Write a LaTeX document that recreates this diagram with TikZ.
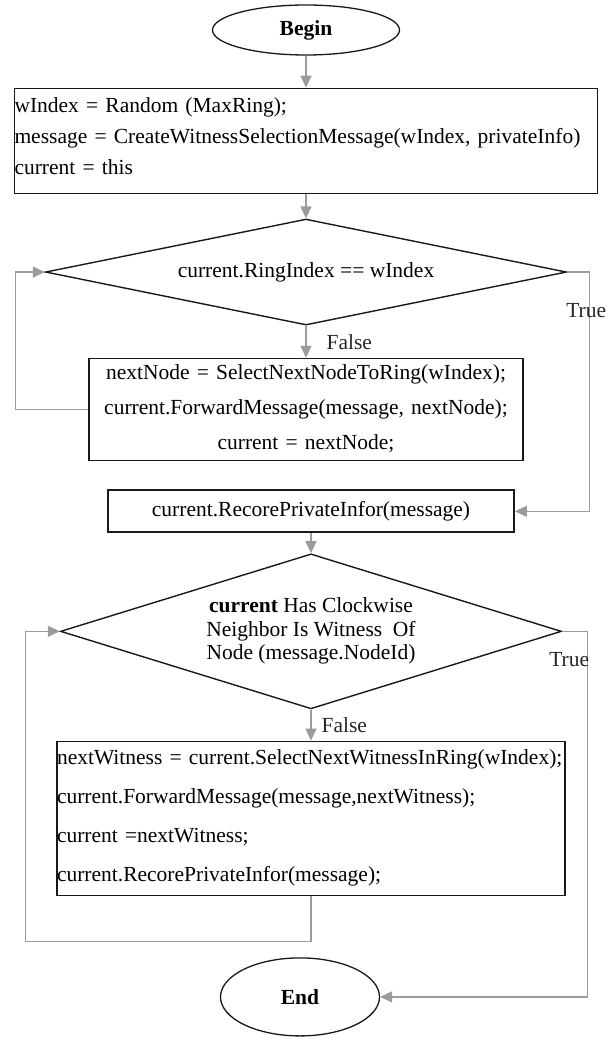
\documentclass[tikz,border=0pt]{standalone}
\usepackage{fontspec}
\setmainfont{Liberation Serif}
\usepackage{tikz}
\usetikzlibrary{arrows.meta,positioning,shapes.geometric}
\definecolor{grayflow}{RGB}{155, 155, 155}
\definecolor{blackshape}{RGB}{25, 25, 25}
\newcommand{\bottompad}[1]{\par\nointerlineskip\vbox to #1{}}

\begin{document}
\begin{tikzpicture}[
      x=1pt, y=-1pt,
      every node/.style={font=\fontsize{21.5}{25}\selectfont, text=black},
      terminal/.style={
        ellipse,
        draw=blackshape,
        line width=1.3pt,
        inner sep=0pt,
        font=\fontsize{21.5}{25}\selectfont\bfseries
      },
      process box/.style={
        rectangle,
        draw=blackshape,
        line width=1.7pt,
        inner sep=0pt,
        align=center
      },
      decision/.style={
        diamond,
        draw=blackshape,
        line width=1.4pt,
        inner sep=0pt,
        align=center
      },
      flow line/.style={
        draw=grayflow,
        line width=1.3pt,
        -{Triangle[length=12pt,width=11pt]}
      },
      branch label/.style={inner sep=0pt, text=black!85},
  ]
        \useasboundingbox (0,0) rectangle (611,1040);

        % 1. Begin
        \node[terminal, minimum width=187pt, minimum height=50pt] (begin) at (306,30) {Begin};
        % 2. Init
        \node[process box, below=32pt of begin, text width=583pt, minimum height=105pt,
              align=left, font=\fontsize{21.5}{31}\selectfont] (init)
            {wIndex = Random (MaxRing);\\
             message = CreateWitnessSelectionMessage(wIndex, privateInfo)\\
             current = this\bottompad{9pt}};
        % 3. Ring test
        \node[decision, below=24pt of init, aspect=5,
              minimum width=521pt, minimum height=106pt] (ringtest)
            {current.RingIndex == wIndex};
        % 4. Forward to ring
        \node[process box, below=32pt of ringtest, text width=434pt, minimum height=102pt,
              font=\fontsize{21.5}{35}\selectfont] (forward)
            {nextNode = SelectNextNodeToRing(wIndex);\\
             current.ForwardMessage(message, nextNode);\\
             current = nextNode;\bottompad{2pt}};
        % 5. Record
        \node[process box, below=28pt of forward, xshift=5pt, text width=406pt,
              minimum height=42pt] (record)
            {current.RecorePrivateInfor(message)};
        % 6. Witness test
        \node[decision, below=20pt of record, aspect=3,
              minimum width=501pt, minimum height=155pt,
              font=\fontsize{21.5}{23.5}\selectfont] (witnesstest)
            {\textbf{current} Has Clockwise\\
             Neighbor Is Witness\ \ Of\\
             Node (message.NodeId)};
        % 7. Relay to witness
        \node[process box, below=31pt of witnesstest, text width=508pt, minimum height=154pt,
              align=left, font=\fontsize{21.5}{39}\selectfont] (relay)
            {nextWitness = current.SelectNextWitnessInRing(wIndex);\\
             current.ForwardMessage(message,nextWitness);\\
             current =nextWitness;\\
             current.RecorePrivateInfor(message);\bottompad{2pt}};
        % 8. End
        \node[terminal, below=61pt of relay, xshift=-11pt,
              minimum width=159pt, minimum height=78pt] (end) {End};

        % connectors
        \draw[flow line] (begin) -- (init);
        \draw[flow line] (init) -- (ringtest);
        \draw[flow line] (ringtest) -- node[branch label, right=20pt] {False} (forward);
        \draw[flow line] (forward.west) -- ++(-73,0) |- (ringtest.west);
        \draw[flow line] (ringtest.east) -- ++(22,0)
            |- node[branch label, pos=.08, xshift=-3pt] {True} (record.east);
        \draw[flow line] (record) -- (witnesstest);
        \draw[flow line] (witnesstest) -- node[branch label, right=10pt] {False} (relay);
        \draw[flow line] (relay.south) -- ++(0,45)
            -| ([xshift=-34.5pt]witnesstest.west) -- (witnesstest.west);
        \draw[flow line] (witnesstest.east) -- ++(25,0)
            |- node[branch label, pos=.038, xshift=-18pt] {True} (end.east);
  \end{tikzpicture}
\end{document}
